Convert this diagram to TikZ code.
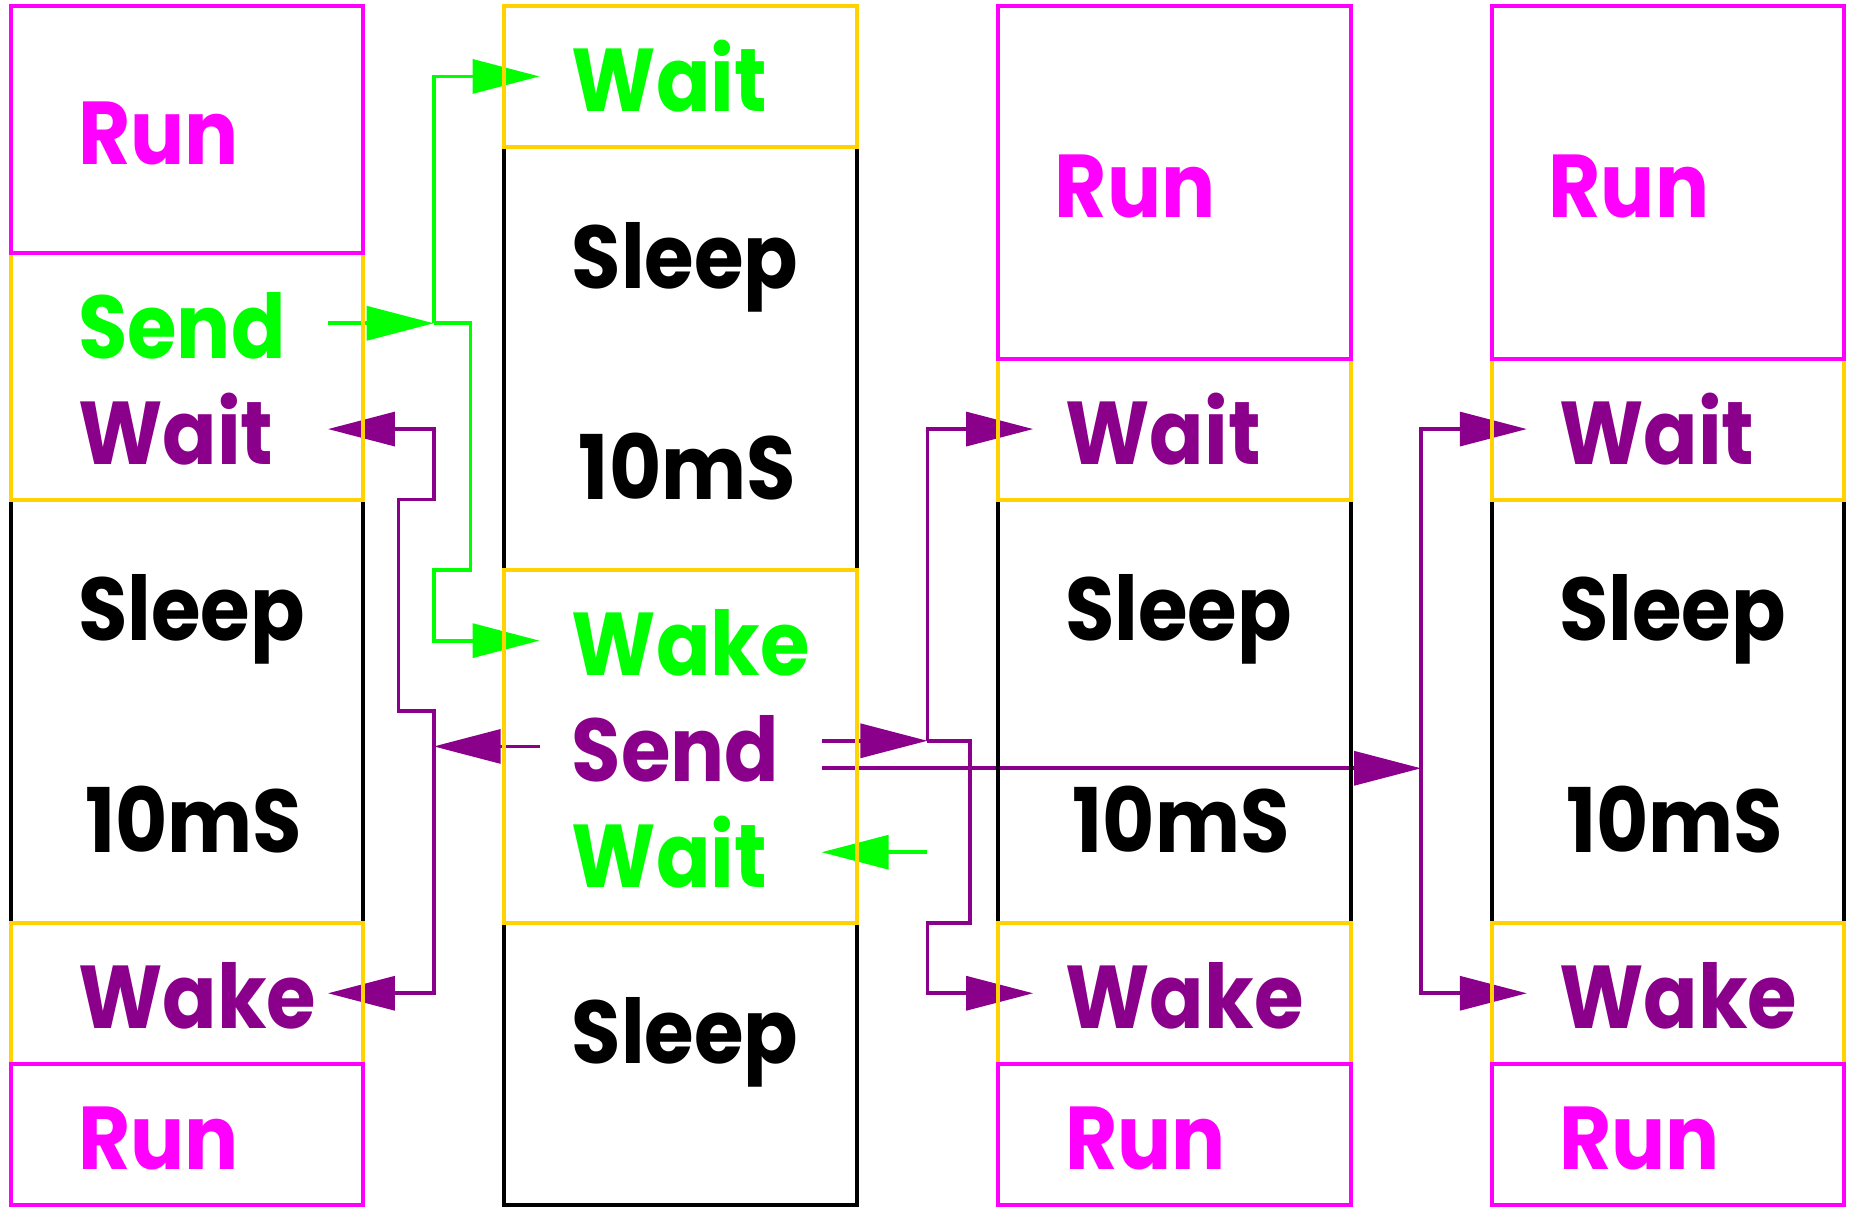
\documentclass[tikz,border=0pt]{standalone}
\usepackage{fontspec}
\setmainfont{Poppins}
\newfontfamily\lblfont{Poppins Bold}[FakeStretch=0.9]
\usepackage{xcolor}
\definecolor{tkrun}{RGB}{255,0,255}
\definecolor{tkipc}{RGB}{255,210,0}
\definecolor{tkgreen}{RGB}{0,255,0}
\definecolor{tkpurple}{RGB}{139,0,139}
\usetikzlibrary{arrows.meta,backgrounds}

\begin{document}
\begin{tikzpicture}[
  slotbox/.style={rectangle, minimum width=5cm, anchor=north west,
                  inner sep=0pt, outer sep=0pt, line width=1.6pt},
  runbox/.style={slotbox, draw=tkrun},
  ipcbox/.style={slotbox, draw=tkipc},
  sleepbox/.style={slotbox, draw=black},
  lbl/.style={anchor=west, inner sep=0pt, text height=1.0cm, text depth=0pt,
              font=\fontsize{36}{40}\lblfont},
  arr/.style={-{Triangle[length=0.95cm, width=0.48cm]}, line width=1.5pt}
]
\useasboundingbox (0,-0.03) rectangle (26.26,17.084);

% Sleep slots
\node[sleepbox, minimum height=6cm] (c1sleep)  at ( 0.15,10) {};
\node[sleepbox, minimum height=6cm] (c2sleep)  at ( 7.15,15) {};
\node[sleepbox, minimum height=4cm] (c2sleepb) at ( 7.15, 4) {};
\node[sleepbox, minimum height=6cm] (c3sleep)  at (14.15,10) {};
\node[sleepbox, minimum height=6cm] (c4sleep)  at (21.15,10) {};

% Send / Wait / Wake slots
\node[ipcbox, minimum height=3.5cm] (c1sw)   at ( 0.15,13.5) {};
\node[ipcbox, minimum height=2cm]   (c1wake) at ( 0.15, 4)   {};
\node[ipcbox, minimum height=2cm]   (c2wait) at ( 7.15,17)   {};
\node[ipcbox, minimum height=5cm]   (c2wsw)  at ( 7.15, 9)   {};
\node[ipcbox, minimum height=2cm]   (c3wait) at (14.15,12)   {};
\node[ipcbox, minimum height=2cm]   (c3wake) at (14.15, 4)   {};
\node[ipcbox, minimum height=2cm]   (c4wait) at (21.15,12)   {};
\node[ipcbox, minimum height=2cm]   (c4wake) at (21.15, 4)   {};

% Run slots
\node[runbox, minimum height=3.5cm] (c1run)  at ( 0.15,17) {};
\node[runbox, minimum height=2cm]   (c1runb) at ( 0.15, 2) {};
\node[runbox, minimum height=5cm]   (c3run)  at (14.15,17) {};
\node[runbox, minimum height=2cm]   (c3runb) at (14.15, 2) {};
\node[runbox, minimum height=5cm]   (c4run)  at (21.15,17) {};
\node[runbox, minimum height=2cm]   (c4runb) at (21.15, 2) {};

% Labels, first task
\node[lbl, text=tkrun]    (c1runL)   at (1.1,15.25) {Run};
\node[lbl, text=tkgreen]  (c1send)   at (1.1,12.5)  {Send};
\node[lbl, text=tkpurple] (c1waitL)  at (1.1,11)    {Wait};
\node[lbl]                (c1sleepL) at (1.1,8.5)   {Sleep};
\node[lbl]                (c1msL)    at (1.2,5.5)   {10mS};
\node[lbl, text=tkpurple] (c1wakeL)  at (1.1,3)     {Wake};
\node[lbl, text=tkrun]    (c1runbL)  at (1.1,1)     {Run};

% Labels, second task
\node[lbl, text=tkgreen]  (c2waitL)   at (8.1,16)   {Wait};
\node[lbl]                (c2sleepL)  at (8.1,13.5) {Sleep};
\node[lbl]                (c2msL)     at (8.2,10.5) {10mS};
\node[lbl, text=tkgreen]  (c2wakeL)   at (8.1,8)    {Wake};
\node[lbl, text=tkpurple] (c2send)    at (8.1,6.5)  {Send};
\node[lbl, text=tkgreen]  (c2waitbL)  at (8.1,5)    {Wait};
\node[lbl]                (c2sleepbL) at (8.1,2.5)  {Sleep};

% Labels, third task
\node[lbl, text=tkrun]    (c3runL)   at (14.95,14.5) {Run};
\node[lbl, text=tkpurple] (c3waitL)  at (15.1,11)    {Wait};
\node[lbl]                (c3sleepL) at (15.1,8.5)   {Sleep};
\node[lbl]                (c3msL)    at (15.2,5.5)   {10mS};
\node[lbl, text=tkpurple] (c3wakeL)  at (15.1,3)     {Wake};
\node[lbl, text=tkrun]    (c3runbL)  at (15.1,1)     {Run};

% Labels, fourth task
\node[lbl, text=tkrun]    (c4runL)   at (21.95,14.5) {Run};
\node[lbl, text=tkpurple] (c4waitL)  at (22.1,11)    {Wait};
\node[lbl]                (c4sleepL) at (22.1,8.5)   {Sleep};
\node[lbl]                (c4msL)    at (22.2,5.5)   {10mS};
\node[lbl, text=tkpurple] (c4wakeL)  at (22.1,3)     {Wake};
\node[lbl, text=tkrun]    (c4runbL)  at (22.1,1)     {Run};

% Branch points
\coordinate (gsplit) at ( 6.15,12.5);
\coordinate (pback)  at ( 6.15,6.5);
\coordinate (psplit) at (13.15,6.58);
\coordinate (pcross) at (20.15,6.19);

\begin{scope}[on background layer]
% Green messages
\draw[arr, tkgreen] ([xshift=-0.5cm]c1sw.east |- c1send) -- (gsplit);
\draw[arr, tkgreen] (gsplit) |- ([xshift=0.5cm]c2wait.west);
\draw[arr, tkgreen] (gsplit) -- ++(0.52,0) -- ++(0,-3.5) -- ++(-0.52,0)
  |- ([xshift=0.5cm]c2wsw.west |- c2wakeL);
\draw[arr, tkgreen] ([xshift=1cm]c2wsw.east |- c2waitbL)
  -- ([xshift=-0.5cm]c2wsw.east |- c2waitbL);

% Purple messages, back to first task
\draw[arr, tkpurple] ([xshift=0.5cm]c2wsw.west |- c2send) -- (pback);
\draw[arr, tkpurple] (pback) -- ++(0,0.5) -- ++(-0.5,0) -- ++(0,3) -- ++(0.5,0)
  |- ([xshift=-0.5cm]c1sw.east |- c1waitL);
\draw[arr, tkpurple] (pback) |- ([xshift=-0.5cm]c1wake.east);

% Purple messages, on to third and fourth task
\draw[arr, tkpurple] ([xshift=-0.5cm]c2wsw.east |- psplit) -- (psplit);
\draw[arr, tkpurple] (psplit) |- ([xshift=0.5cm]c3wait.west);
\draw[arr, tkpurple] (psplit) -- ++(0.6,0) -- ++(0,-2.58) -- ++(-0.6,0)
  |- ([xshift=0.5cm]c3wake.west);
\draw[arr, tkpurple] ([xshift=-0.5cm]c2wsw.east |- pcross) -- (pcross);
\draw[arr, tkpurple] (pcross) |- ([xshift=0.5cm]c4wait.west);
\draw[arr, tkpurple] (pcross) |- ([xshift=0.5cm]c4wake.west);
\end{scope}
\end{tikzpicture}
\end{document}
